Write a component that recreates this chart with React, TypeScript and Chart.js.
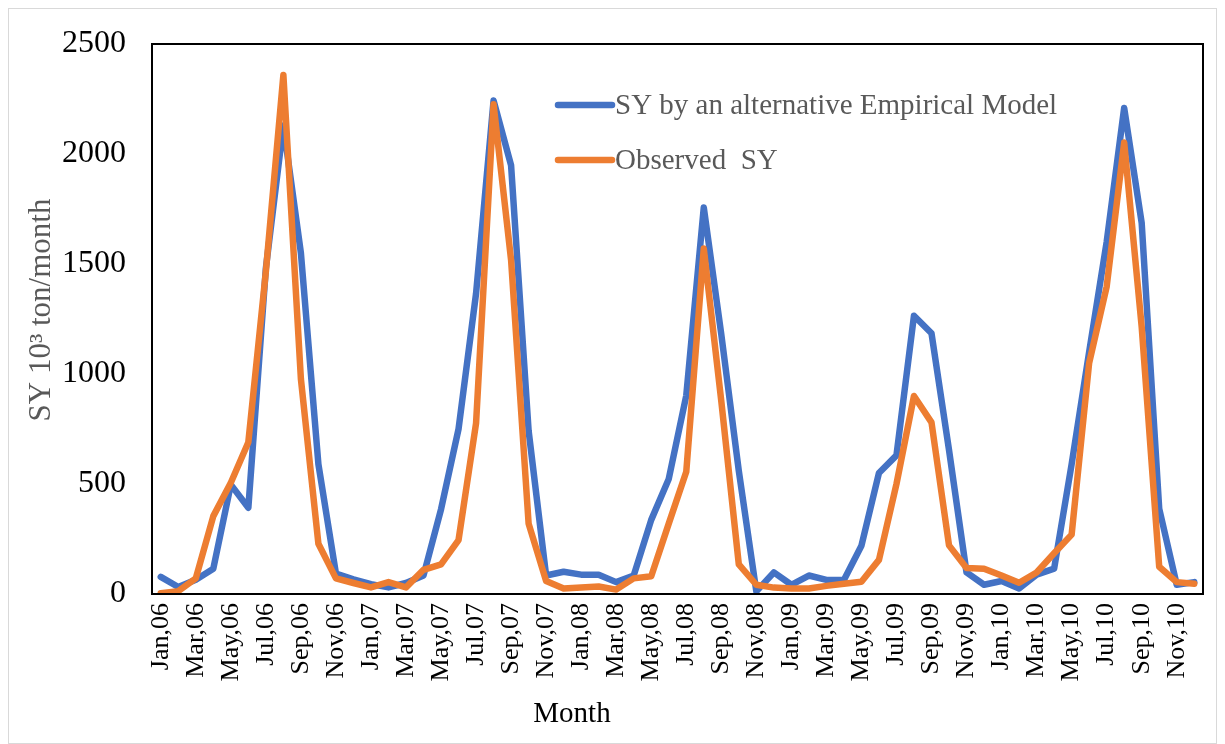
import React, { useEffect, useRef } from "react";
import { Chart, registerables } from "chart.js";

Chart.register(...registerables);

const MONTHS = ["Jan", "Feb", "Mar", "Apr", "May", "Jun", "Jul", "Aug", "Sep", "Oct", "Nov", "Dec"];
const YEARS = ["06", "07", "08", "09", "10"];
const categories: string[] = YEARS.flatMap((y) => MONTHS.map((m) => `${m},${y}`));

const seriesNames = ["SY by an alternative Empirical Model", "Observed  SY"];
const seriesColors = ["#4472C4", "#ED7D31"];

const modelSY = [
  78, 32, 65, 115, 497, 392, 1480, 2130, 1550, 590, 93, 67,
  45, 30, 50, 84, 385, 750, 1366, 2243, 1948, 742, 84, 101,
  88, 88, 54, 84, 337, 523, 902, 1757, 1180, 560, 12, 98,
  42, 84, 64, 64, 219, 550, 630, 1265, 1185, 655, 98, 42,
  59, 25, 88, 115, 590, 1100, 1600, 2209, 1686, 388, 42, 54,
];

const observedSY = [
  3, 13, 71, 354, 506, 690, 1465, 2359, 978, 228, 71, 50,
  30, 54, 30, 110, 135, 245, 776, 2226, 1518, 320, 59, 25,
  29, 34, 20, 71, 81, 320, 556, 1570, 877, 135, 42, 29,
  25, 25, 37, 47, 56, 155, 500, 900, 780, 221, 118, 115,
  84, 51, 98, 185, 270, 1050, 1397, 2052, 1214, 124, 54, 47,
];

const yTicks = [0, 500, 1000, 1500, 2000, 2500];
const yTitle = "SY 10\u00B3 ton/month";
const xTitle = "Month";

const SERIF = '"Liberation Serif", "Times New Roman", serif';

const framePlugin = {
  id: "framePlugin",
  afterDatasetsDraw(chart: any) {
    const { ctx, chartArea: a } = chart;
    ctx.save();
    ctx.strokeStyle = "#000";
    ctx.lineWidth = 2;
    ctx.strokeRect(a.left, a.top, a.right - a.left, a.bottom - a.top);

    // legend
    const rows = [
      { y: a.top + 61, color: seriesColors[0], text: seriesNames[0] },
      { y: a.top + 116, color: seriesColors[1], text: seriesNames[1] },
    ];
    ctx.font = `29px ${SERIF}`;
    ctx.textBaseline = "middle";
    ctx.textAlign = "left";
    rows.forEach((r) => {
      ctx.beginPath();
      ctx.strokeStyle = r.color;
      ctx.lineWidth = 6.5;
      ctx.lineCap = "round";
      ctx.moveTo(a.left + 406, r.y);
      ctx.lineTo(a.left + 460, r.y);
      ctx.stroke();
      ctx.fillStyle = "#595959";
      ctx.fillText(r.text, a.left + 463, r.y + 1);
    });

    // x axis title
    ctx.fillStyle = "#000";
    ctx.textAlign = "center";
    ctx.font = `29px ${SERIF}`;
    ctx.fillText(xTitle, a.left + 420, a.bottom + 120);

    // y axis title
    ctx.save();
    ctx.translate(a.left - 110, a.top + 266);
    ctx.rotate(-Math.PI / 2);
    ctx.fillStyle = "#595959";
    ctx.font = `31px ${SERIF}`;
    ctx.textAlign = "center";
    ctx.textBaseline = "middle";
    ctx.fillText(yTitle, 0, 0);
    ctx.restore();

    ctx.restore();
  },
};

export default function App() {
  const ref = useRef<HTMLCanvasElement | null>(null);

  useEffect(() => {
    if (!ref.current) return;
    const chart = new Chart(ref.current, {
      type: "line",
      data: {
        labels: categories,
        datasets: [
          {
            label: seriesNames[0],
            data: modelSY,
            borderColor: seriesColors[0],
            backgroundColor: seriesColors[0],
            borderWidth: 6.5,
            pointRadius: 0,
            tension: 0,
            borderJoinStyle: "round",
            borderCapStyle: "round",
            order: 1,
          },
          {
            label: seriesNames[1],
            data: observedSY,
            borderColor: seriesColors[1],
            backgroundColor: seriesColors[1],
            borderWidth: 6.5,
            pointRadius: 0,
            tension: 0,
            borderJoinStyle: "round",
            borderCapStyle: "round",
            order: 0,
          },
        ],
      },
      options: {
        animation: false,
        responsive: true,
        maintainAspectRatio: false,
        layout: { padding: { left: 0, right: 13, top: 35, bottom: 0 } },
        plugins: {
          legend: { display: false },
          tooltip: { enabled: false },
        },
        scales: {
          x: {
            type: "category",
            offset: true,
            grid: { display: false, drawTicks: false },
            border: { display: false },
            ticks: {
              autoSkip: false,
              minRotation: 90,
              maxRotation: 90,
              padding: 9,
              color: "#000",
              font: { family: SERIF, size: 26 },
              callback: (_v: any, i: number) => (i % 2 === 0 ? categories[i] : ""),
            },
            afterFit: (scale: any) => {
              scale.height = 149;
              scale.paddingLeft = 0;
              scale.paddingRight = 0;
              scale.paddingTop = 0;
              scale.paddingBottom = 0;
            },
          },
          y: {
            min: 0,
            max: 2500,
            grid: { display: false, drawTicks: false },
            border: { display: false },
            afterBuildTicks: (scale: any) => {
              scale.ticks = yTicks.map((v) => ({ value: v }));
            },
            ticks: {
              padding: 26,
              color: "#000",
              font: { family: SERIF, size: 32 },
              callback: (v: any) => String(v),
            },
            afterFit: (scale: any) => {
              scale.width = 143;
              scale.paddingLeft = 0;
              scale.paddingRight = 0;
              scale.paddingTop = 0;
              scale.paddingBottom = 0;
            },
          },
        },
      },
      plugins: [framePlugin],
    });
    return () => chart.destroy();
  }, []);

  return (
    <div
      style={{
        position: "relative",
        width: 1209,
        height: 736,
        boxSizing: "border-box",
        border: "1px solid #d9d9d9",
        background: "#fff",
      }}
    >
      <canvas ref={ref} />
    </div>
  );
}
